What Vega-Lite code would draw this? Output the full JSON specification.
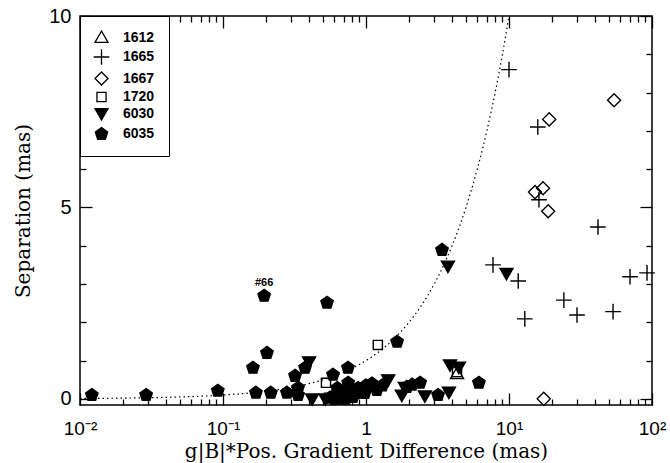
{
  "$schema": "https://vega.github.io/schema/vega-lite/v6.json",
  "width": 572,
  "height": 389,
  "autosize": {"type": "none"},
  "padding": {"left": 80, "top": 16, "right": 18, "bottom": 58},
  "background": "white",
  "config": {
    "view": {"stroke": "black", "strokeWidth": 1.5},
    "font": "Liberation Sans",
    "axis": {"domain": false, "grid": false, "tickColor": "black", "tickWidth": 1.3, "labelColor": "black", "titleColor": "black"}
  },
  "datasets": {
    "curve": [
      {"x": 0.01, "y": 0.01}, {"x": 0.02, "y": 0.02}, {"x": 0.05, "y": 0.05}, {"x": 0.1, "y": 0.1},
      {"x": 0.2, "y": 0.2}, {"x": 0.3, "y": 0.3}, {"x": 0.5, "y": 0.5}, {"x": 0.7, "y": 0.7},
      {"x": 1, "y": 1}, {"x": 1.3, "y": 1.3}, {"x": 1.6, "y": 1.6}, {"x": 2, "y": 2},
      {"x": 2.5, "y": 2.5}, {"x": 3, "y": 3}, {"x": 3.5, "y": 3.5}, {"x": 4, "y": 4},
      {"x": 4.5, "y": 4.5}, {"x": 5, "y": 5}, {"x": 6, "y": 6}, {"x": 7, "y": 7},
      {"x": 8, "y": 8}, {"x": 9, "y": 9}, {"x": 10, "y": 10}
    ],
    "pts": [
      {"series": "1612", "x": 4.33, "y": 0.66, "note": ""},
      {"series": "1665", "x": 10, "y": 8.6, "note": ""},
      {"series": "1665", "x": 15.9, "y": 7.1, "note": ""},
      {"series": "1665", "x": 16.2, "y": 5.2, "note": ""},
      {"series": "1665", "x": 41.9, "y": 4.49, "note": ""},
      {"series": "1665", "x": 7.73, "y": 3.5, "note": ""},
      {"series": "1665", "x": 11.6, "y": 3.08, "note": ""},
      {"series": "1665", "x": 12.9, "y": 2.09, "note": ""},
      {"series": "1665", "x": 24.2, "y": 2.58, "note": ""},
      {"series": "1665", "x": 29.9, "y": 2.19, "note": ""},
      {"series": "1665", "x": 53.4, "y": 2.28, "note": ""},
      {"series": "1665", "x": 70.2, "y": 3.19, "note": ""},
      {"series": "1665", "x": 92.3, "y": 3.29, "note": ""},
      {"series": "1667", "x": 54.3, "y": 7.8, "note": ""},
      {"series": "1667", "x": 19.1, "y": 7.3, "note": ""},
      {"series": "1667", "x": 15.2, "y": 5.4, "note": ""},
      {"series": "1667", "x": 17.3, "y": 5.5, "note": ""},
      {"series": "1667", "x": 18.8, "y": 4.9, "note": ""},
      {"series": "1667", "x": 17.5, "y": 0.0, "note": ""},
      {"series": "1720", "x": 0.525, "y": 0.42, "note": ""},
      {"series": "1720", "x": 1.21, "y": 1.41, "note": ""},
      {"series": "1720", "x": 4.33, "y": 0.7, "note": ""},
      {"series": "6030", "x": 0.40, "y": 0.97, "note": ""},
      {"series": "6030", "x": 0.42, "y": 0.0, "note": ""},
      {"series": "6030", "x": 0.52, "y": 0.0, "note": ""},
      {"series": "6030", "x": 0.57, "y": 0.02, "note": ""},
      {"series": "6030", "x": 1.43, "y": 0.5, "note": ""},
      {"series": "6030", "x": 1.78, "y": 0.1, "note": ""},
      {"series": "6030", "x": 1.87, "y": 0.3, "note": ""},
      {"series": "6030", "x": 2.58, "y": 0.08, "note": ""},
      {"series": "6030", "x": 3.8, "y": 0.18, "note": ""},
      {"series": "6030", "x": 3.87, "y": 0.89, "note": ""},
      {"series": "6030", "x": 4.46, "y": 0.83, "note": ""},
      {"series": "6030", "x": 3.74, "y": 3.47, "note": ""},
      {"series": "6030", "x": 9.6, "y": 3.28, "note": ""},
      {"series": "6035", "x": 0.0121, "y": 0.10, "note": ""},
      {"series": "6035", "x": 0.029, "y": 0.10, "note": ""},
      {"series": "6035", "x": 0.092, "y": 0.21, "note": ""},
      {"series": "6035", "x": 0.162, "y": 0.81, "note": ""},
      {"series": "6035", "x": 0.17, "y": 0.16, "note": ""},
      {"series": "6035", "x": 0.203, "y": 1.2, "note": ""},
      {"series": "6035", "x": 0.194, "y": 2.69, "note": "#66"},
      {"series": "6035", "x": 0.216, "y": 0.16, "note": ""},
      {"series": "6035", "x": 0.28, "y": 0.16, "note": ""},
      {"series": "6035", "x": 0.335, "y": 0.29, "note": ""},
      {"series": "6035", "x": 0.335, "y": 0.1, "note": ""},
      {"series": "6035", "x": 0.319, "y": 0.6, "note": ""},
      {"series": "6035", "x": 0.375, "y": 0.81, "note": ""},
      {"series": "6035", "x": 0.534, "y": 2.51, "note": ""},
      {"series": "6035", "x": 0.588, "y": 0.63, "note": ""},
      {"series": "6035", "x": 0.56, "y": 0.03, "note": ""},
      {"series": "6035", "x": 0.748, "y": 0.81, "note": ""},
      {"series": "6035", "x": 0.58, "y": 0.05, "note": ""},
      {"series": "6035", "x": 0.63, "y": 0.28, "note": ""},
      {"series": "6035", "x": 0.69, "y": 0.1, "note": ""},
      {"series": "6035", "x": 0.75, "y": 0.42, "note": ""},
      {"series": "6035", "x": 0.81, "y": 0.05, "note": ""},
      {"series": "6035", "x": 0.88, "y": 0.28, "note": ""},
      {"series": "6035", "x": 0.98, "y": 0.15, "note": ""},
      {"series": "6035", "x": 1.10, "y": 0.4, "note": ""},
      {"series": "6035", "x": 1.19, "y": 0.23, "note": ""},
      {"series": "6035", "x": 0.66, "y": 0.2, "note": ""},
      {"series": "6035", "x": 0.72, "y": 0.0, "note": ""},
      {"series": "6035", "x": 0.85, "y": 0.15, "note": ""},
      {"series": "6035", "x": 1.0, "y": 0.35, "note": ""},
      {"series": "6035", "x": 0.77, "y": 0.3, "note": ""},
      {"series": "6035", "x": 1.65, "y": 1.49, "note": ""},
      {"series": "6035", "x": 3.40, "y": 3.89, "note": ""},
      {"series": "6035", "x": 1.93, "y": 0.31, "note": ""},
      {"series": "6035", "x": 2.10, "y": 0.37, "note": ""},
      {"series": "6035", "x": 2.39, "y": 0.42, "note": ""},
      {"series": "6035", "x": 3.19, "y": 0.1, "note": ""},
      {"series": "6035", "x": 6.16, "y": 0.42, "note": ""},
      {"series": "6035", "x": 1.3, "y": 0.35, "note": ""},
      {"series": "6035", "x": 0.62, "y": 0.0, "note": ""}
    ]
  },
  "resolve": {"axis": {"x": "independent", "y": "independent"}},
  "layer": [
    {
      "data": {"name": "curve"},
      "mark": {"type": "line", "color": "black", "strokeWidth": 1.2, "strokeDash": [1.5, 3], "interpolate": "monotone", "clip": true},
      "encoding": {
        "x": {"field": "x", "type": "quantitative",
          "scale": {"type": "log", "domain": [0.01, 100], "nice": false},
          "axis": {"orient": "bottom", "values": [0.01, 0.1, 1, 10, 100], "tickSize": -12,
            "labelExpr": "datum.value < 0.05 ? '10⁻²' : datum.value < 0.5 ? '10⁻¹' : datum.value < 5 ? '1' : datum.value < 50 ? '10¹' : '10²'",
            "labelFontSize": 19, "labelPadding": 26, "labelFlush": false, "labelOverlap": false, "labelBound": false,
            "title": "g|B|*Pos. Gradient Difference (mas)", "titleFont": "DejaVu Serif", "titleFontSize": 20, "titleFontWeight": "normal", "titlePadding": 3}},
        "y": {"field": "y", "type": "quantitative",
          "scale": {"domain": [-0.16, 10], "nice": false, "zero": false},
          "axis": {"orient": "left", "values": [0, 5, 10], "tickSize": -12,
            "labelFontSize": 20, "labelPadding": 21, "labelFlush": false, "labelOverlap": false, "labelBound": false,
            "title": "Separation (mas)", "titleFont": "DejaVu Serif", "titleFontSize": 20, "titleFontWeight": "normal", "titlePadding": 15}}
      }
    },
    {
      "data": {"name": "pts"},
      "mark": {"type": "point", "strokeWidth": 1.4, "opacity": 1, "size": 170},
      "encoding": {
        "x": {"field": "x", "type": "quantitative",
          "scale": {"type": "log", "domain": [0.01, 100], "nice": false},
          "axis": {"orient": "bottom", "values": [0.02,0.03,0.04,0.05,0.06,0.07,0.08,0.09,0.2,0.3,0.4,0.5,0.6,0.7,0.8,0.9,2,3,4,5,6,7,8,9,20,30,40,50,60,70,80,90], "tickSize": -6, "labels": false, "title": null}},
        "y": {"field": "y", "type": "quantitative",
          "scale": {"domain": [-0.16, 10], "nice": false, "zero": false},
          "axis": {"orient": "left", "values": [1,2,3,4,6,7,8,9], "tickSize": -6, "labels": false, "title": null}},
        "shape": {"field": "series", "type": "nominal",
          "scale": {"domain": ["1612","1665","1667","1720","6030","6035"],
            "range": ["M0,-1L1,0.75L-1,0.75Z", "M-1.2,0L1.2,0M0,-1.2L0,1.2", "M0,-1L1,0L0,1L-1,0Z", "M-0.7,-0.7L0.7,-0.7L0.7,0.7L-0.7,0.7Z", "M-1,-0.75L1,-0.75L0,1Z", "M0,-1L0.951,-0.309L0.588,0.809L-0.588,0.809L-0.951,-0.309Z"]},
          "legend": {"orient": "none", "legendX": 0, "legendY": 0, "title": null, "strokeColor": "black", "fillColor": "white", "padding": 14, "rowPadding": 1.5, "symbolSize": 170, "symbolStrokeWidth": 1.3, "labelFontSize": 14, "labelFontWeight": "bold", "labelFont": "Liberation Sans", "labelColor": "black", "labelOffset": 14}},
        "fill": {"field": "series", "type": "nominal",
          "scale": {"domain": ["1612","1665","1667","1720","6030","6035"], "range": ["transparent","transparent","transparent","transparent","black","black"]},
          "legend": {"orient": "none", "legendX": 0, "legendY": 0, "title": null, "strokeColor": "black", "fillColor": "white", "padding": 14, "rowPadding": 1.5, "symbolSize": 170, "symbolStrokeWidth": 1.3, "labelFontSize": 14, "labelFontWeight": "bold", "labelFont": "Liberation Sans", "labelColor": "black", "labelOffset": 14}},
        "stroke": {"field": "series", "type": "nominal",
          "scale": {"domain": ["1612","1665","1667","1720","6030","6035"], "range": ["black","black","black","black","black","black"]},
          "legend": {"orient": "none", "legendX": 0, "legendY": 0, "title": null, "strokeColor": "black", "fillColor": "white", "padding": 14, "rowPadding": 1.5, "symbolSize": 170, "symbolStrokeWidth": 1.3, "labelFontSize": 14, "labelFontWeight": "bold", "labelFont": "Liberation Sans", "labelColor": "black", "labelOffset": 14}}
      }
    },
    {
      "data": {"name": "pts"},
      "transform": [{"filter": "datum.note != ''"}],
      "mark": {"type": "text", "dy": -13, "fontSize": 11, "fontWeight": "bold", "color": "black"},
      "encoding": {
        "x": {"field": "x", "type": "quantitative",
          "scale": {"type": "log", "domain": [0.01, 100], "nice": false},
          "axis": {"orient": "top", "values": [0.01, 0.1, 1, 10, 100], "tickSize": -12, "labels": false, "title": null}},
        "y": {"field": "y", "type": "quantitative",
          "scale": {"domain": [-0.16, 10], "nice": false, "zero": false},
          "axis": {"orient": "right", "values": [0, 5, 10], "tickSize": -12, "labels": false, "title": null}},
        "text": {"field": "note"}
      }
    },
    {
      "data": {"name": "curve"},
      "mark": {"type": "point", "opacity": 0},
      "encoding": {
        "x": {"field": "x", "type": "quantitative",
          "scale": {"type": "log", "domain": [0.01, 100], "nice": false},
          "axis": {"orient": "top", "values": [0.02,0.03,0.04,0.05,0.06,0.07,0.08,0.09,0.2,0.3,0.4,0.5,0.6,0.7,0.8,0.9,2,3,4,5,6,7,8,9,20,30,40,50,60,70,80,90], "tickSize": -6, "labels": false, "title": null}},
        "y": {"field": "y", "type": "quantitative",
          "scale": {"domain": [-0.16, 10], "nice": false, "zero": false},
          "axis": {"orient": "right", "values": [1,2,3,4,6,7,8,9], "tickSize": -6, "labels": false, "title": null}}
      }
    }
  ]
}
